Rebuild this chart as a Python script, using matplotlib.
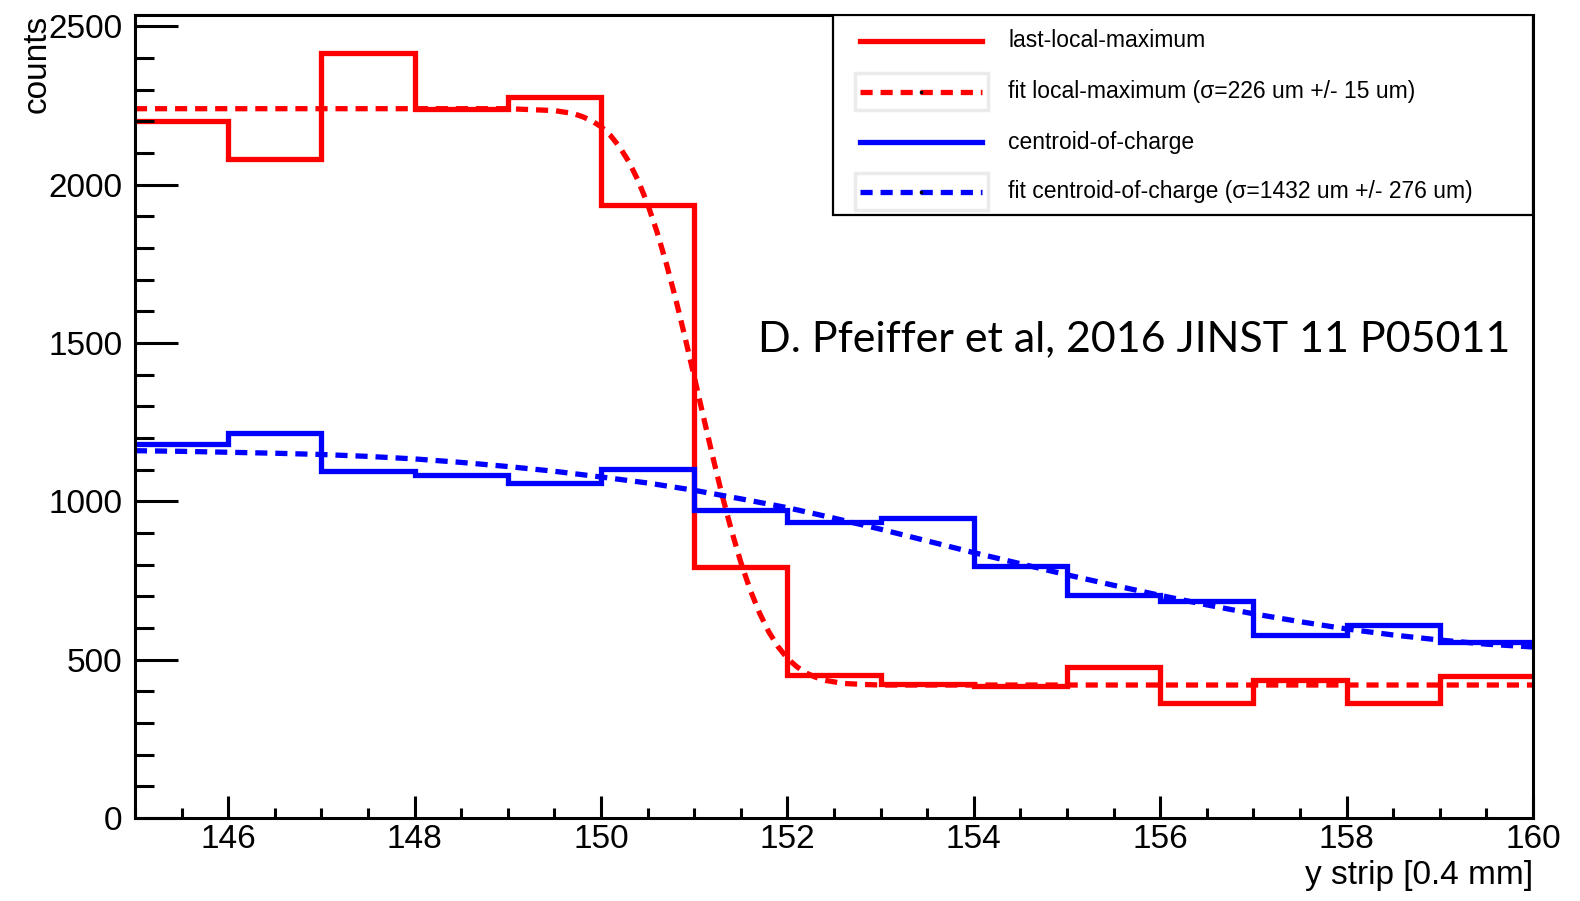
import matplotlib
matplotlib.use("Agg")
import matplotlib.pyplot as plt
from matplotlib.lines import Line2D
from matplotlib.patches import Rectangle
from matplotlib.ticker import MultipleLocator

# bin edges of both histograms (y strip number)
bin_edges = [145, 146, 147, 148, 149, 150, 151, 152, 153, 154, 155, 156, 157, 158, 159, 160]

# last-local-maximum histogram
red_counts = [2200, 2080, 2416, 2239, 2277, 1937, 792, 452, 422, 417, 477, 363, 436, 363, 447]

# centroid-of-charge histogram
blue_counts = [1182, 1217, 1095, 1084, 1059, 1102, 972, 935, 948, 796, 705, 686, 578, 609, 556]

# fit curves, points
red_fit_x = [145, 149.0, 149.5, 149.7, 149.8, 149.9, 150.0, 150.1, 150.2, 150.3, 150.4,
             150.5, 150.6, 150.7, 150.8, 150.9, 151.0, 151.1, 151.2, 151.3, 151.4, 151.5,
             151.6, 151.7, 151.8, 151.9, 152.0, 152.1, 152.2, 152.3, 152.4, 152.6, 152.8,
             153.0, 160]
red_fit_y = [2240, 2240, 2234, 2225, 2215, 2202, 2183, 2156, 2119, 2072, 2012,
             1939, 1852, 1752, 1641, 1520, 1394, 1266, 1140, 1019, 908, 808,
             721, 648, 588, 541, 504, 478, 458, 445, 435, 425, 422,
             420, 420]

blue_fit_x = [145, 145.5, 146, 146.5, 147, 147.5, 148, 148.5, 149, 149.5, 150, 150.5,
              151, 151.5, 152, 152.5, 153, 153.5, 154, 154.5, 155, 155.5, 156, 156.5,
              157, 157.5, 158, 158.5, 159, 159.5, 160]
blue_fit_y = [1160, 1158, 1155, 1152, 1148, 1142, 1134, 1123, 1110, 1095, 1077, 1058,
              1035, 1008, 980, 947, 912, 875, 838, 803, 768, 735, 703, 673,
              645, 620, 597, 578, 562, 549, 540]

legend_labels = [
    "last-local-maximum",
    "fit local-maximum (\u03c3=226 um +/- 15 um)",
    "centroid-of-charge",
    "fit centroid-of-charge (\u03c3=1432 um +/- 276 um)",
]

plt.rcParams["font.family"] = ["Liberation Sans", "DejaVu Sans"]

RED = "#ff0000"
BLUE = "#0000ff"
LW = 3.8
DASH = (2.3, 1.5)

fig = plt.figure(figsize=(15.8, 9.01), dpi=100)
ax = fig.add_axes([0.0854, 0.0921, 0.8849, 0.8913])

ax.stairs(red_counts, bin_edges, color=RED, lw=LW, baseline=None)
ax.stairs(blue_counts, bin_edges, color=BLUE, lw=LW, baseline=None)
ax.plot(red_fit_x, red_fit_y, color=RED, lw=LW, dashes=DASH)
ax.plot(blue_fit_x, blue_fit_y, color=BLUE, lw=LW, dashes=DASH)

ax.set_xlim(145, 160)
ax.set_ylim(0, 2536)

# ROOT-like axes
for sp in ax.spines.values():
    sp.set_linewidth(2.2)
ax.xaxis.set_major_locator(MultipleLocator(2))
ax.xaxis.set_minor_locator(MultipleLocator(0.5))
ax.yaxis.set_major_locator(MultipleLocator(500))
ax.yaxis.set_minor_locator(MultipleLocator(100))
ax.tick_params(axis="both", which="both", direction="in", width=2.2, labelsize=24)
ax.tick_params(axis="y", which="major", length=31, pad=9)
ax.tick_params(axis="y", which="minor", length=14)
ax.tick_params(axis="x", which="major", length=16, pad=4)
ax.tick_params(axis="x", which="minor", length=7)

ax.set_ylabel("counts", fontsize=24, loc="top")
ax.yaxis.set_label_coords(-0.059, 1.0)
ax.set_xlabel("y strip [0.4 mm]", fontsize=24, loc="right")
ax.xaxis.set_label_coords(1.0, -0.052)

# legend box drawn by hand, ROOT style
ax.add_patch(Rectangle((0.4993, 0.7509), 0.5007, 0.2491, transform=ax.transAxes,
                       fill=True, facecolor="white", edgecolor="black", lw=1.6, zorder=5))
rows = [0.9676, 0.9041, 0.8418, 0.7796]
styles = [(RED, None), (RED, DASH), (BLUE, None), (BLUE, DASH)]
for yy, (col, dash), lab in zip(rows, styles, legend_labels):
    if dash is not None:
        ax.add_patch(Rectangle((0.515, yy - 0.023), 0.0952, 0.046, transform=ax.transAxes,
                               fill=False, edgecolor="#ebebeb", lw=2.5, zorder=6))
        ln = Line2D([0.5186, 0.6059], [yy, yy], color=col, lw=LW, dashes=dash,
                    transform=ax.transAxes, zorder=7)
        ax.plot([0.5622], [yy], marker="s", ms=2, color="black", transform=ax.transAxes,
                zorder=8)
    else:
        ln = Line2D([0.5186, 0.6059], [yy, yy], color=col, lw=LW,
                    transform=ax.transAxes, zorder=7)
    ax.add_line(ln)
    ax.text(0.6245, yy, lab, transform=ax.transAxes, fontsize=16.5, va="center",
            ha="left", zorder=8)

ax.text(0.9835, 0.5816, "D. Pfeiffer et al, 2016 JINST 11 P05011", transform=ax.transAxes,
        fontsize=31, ha="right", va="baseline",
        family=["Lato", "DejaVu Sans"])

fig.savefig("out.png", dpi=100)
